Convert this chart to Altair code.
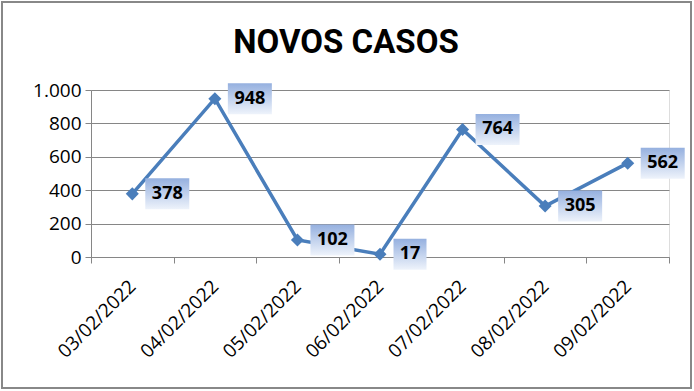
import altair as alt
import pandas as pd

dates = ["03/02/2022", "04/02/2022", "05/02/2022", "06/02/2022",
         "07/02/2022", "08/02/2022", "09/02/2022"]
values = [378, 948, 102, 17, 764, 305, 562]
y_ticks = [0, 200, 400, 600, 800, 1000]
title_text = "NOVOS CASOS"

df = pd.DataFrame({"data": dates, "casos": values})

LINE = "#4A7EBB"
GRAY = "#868686"
LABEL_FONT = "Open Sans"

x_enc = alt.X("data:N", sort=dates, title=None,
              scale=alt.Scale(type="band", paddingInner=0, paddingOuter=0),
              axis=alt.Axis(labelAngle=-45, labelAlign="right", labelBaseline="middle",
                            labelPadding=20, labelOffset=0, labelFontSize=19, labelFont=LABEL_FONT,
                            labelColor="#000000", tickBand="extent", tickColor=GRAY,
                            tickSize=6, domainColor=GRAY, domainWidth=1, grid=False,
                            labelOverlap=False))
y_enc = alt.Y("casos:Q", title=None,
              scale=alt.Scale(domain=[0, 1000], nice=False),
              axis=alt.Axis(values=y_ticks, labelExpr="replace(format(datum.value, ','), ',', '.')",
                            labelFontSize=19, labelFont=LABEL_FONT, labelColor="#000000",
                            labelPadding=4, tickSize=6, tickColor=GRAY, domainColor=GRAY,
                            gridColor=GRAY, gridWidth=1, grid=True,
                            labelOverlap=False, labelFlush=False))

base = alt.Chart(df)

line = base.mark_line(color=LINE, strokeWidth=3.5).encode(x=x_enc, y=y_enc)
pts = base.mark_point(shape="diamond", size=170, filled=True, color=LINE, opacity=1).encode(
    x=x_enc, y=y_enc)

grad = alt.LinearGradient(gradient="linear",
                          stops=[alt.GradientStop(color="#95B0DF", offset=0),
                                 alt.GradientStop(color="#EEF3FB", offset=1)],
                          x1=0, x2=0, y1=0, y2=1)

box3 = base.transform_filter("datum.casos >= 100").mark_rect(
    width=44, height=31, xOffset=35, color=grad).encode(x=x_enc, y=y_enc)
box2 = base.transform_filter("datum.casos < 100").mark_rect(
    width=33, height=31, xOffset=30, color=grad).encode(x=x_enc, y=y_enc)

txt3 = base.transform_filter("datum.casos >= 100").mark_text(
    dx=35, font=LABEL_FONT, fontSize=18, fontWeight="bold", color="#000000",
    align="center", baseline="middle").encode(x=x_enc, y=y_enc, text="casos:Q")
txt2 = base.transform_filter("datum.casos < 100").mark_text(
    dx=30, font=LABEL_FONT, fontSize=18, fontWeight="bold", color="#000000",
    align="center", baseline="middle").encode(x=x_enc, y=y_enc, text="casos:Q")

border = alt.Chart(alt.Data(values=[{}])).mark_rect(
    fill=None, fillOpacity=0, stroke="#888888", strokeWidth=2, clip=False).encode(
    x=alt.value(-89), x2=alt.value(600), y=alt.value(-88), y2=alt.value(298))

title = alt.Chart(alt.Data(values=[{}])).mark_text(
    font="Roboto", fontSize=33, fontWeight="bold", color="#000000",
    align="center", baseline="alphabetic", clip=False).encode(
    x=alt.value(255), y=alt.value(-37), text=alt.value(title_text))

chart = alt.layer(line, pts, box3, box2, txt3, txt2, border, title).properties(
    width=578, height=167,
    autosize=alt.AutoSizeParams(type="none"),
    padding={"left": 91, "top": 90, "right": 25, "bottom": 134},
).configure_view(stroke=None).configure(background="#FFFFFF")

chart.save("out.html", embed_options={"renderer": "svg", "actions": False})
